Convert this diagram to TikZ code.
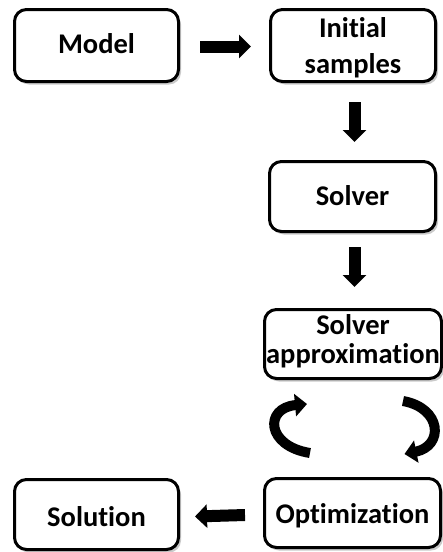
\documentclass[tikz,border=0pt]{standalone}
\usepackage{fontspec}
\setmainfont{Carlito}[Ligatures=NoCommon]
\usetikzlibrary{arrows.meta,shadows}
\begin{document}
\begin{tikzpicture}[x=1pt,y=-1pt,
  box/.style={draw=black, line width=3pt, rounded corners=12pt, fill=white,
    drop shadow={shadow xshift=2.5pt, shadow yshift=-3pt, fill=black!35, opacity=0.6},
    inner sep=0pt, align=center, font=\bfseries\fontsize{28.5}{36}\selectfont},
  blockarrow/.style={line width=12pt, -{Triangle[length=12pt,width=23pt]}},
  curvearrow/.style={line width=10pt, -{Triangle[length=12pt,width=22pt]}}]
\useasboundingbox (0,0) rectangle (443,552);
\node[box, text height=20pt, text depth=4pt, minimum width=164pt, minimum height=72pt] (model) at (96.5,45.5) {Model};
\node[box, minimum width=165pt, minimum height=72pt] (init) at (353,45.5) {\rule{0pt}{26pt}Initial\\samples\rule[-7pt]{0pt}{7pt}};
\node[box, text height=20pt, text depth=3pt, minimum width=166pt, minimum height=70pt] (solver) at (352.5,196.5) {Solver};
\node[box, minimum width=177pt, minimum height=69pt, font=\bfseries\fontsize{28.5}{29}\selectfont] (approx) at (353,344) {\rule{0pt}{20pt}Solver\\approximation\rule[-11pt]{0pt}{11pt}};
\node[box, text height=22pt, text depth=2pt, minimum width=176pt, minimum height=69pt] (opt) at (352.5,513) {Optimization};
\node[box, text height=24pt, text depth=1pt, minimum width=164pt, minimum height=70pt] (sol) at (96.5,514.5) {Solution};
\draw[blockarrow] ([xshift=20pt,yshift=-1pt]model.east) -- ([xshift=-18pt,yshift=-1pt]init.west);
\draw[blockarrow] ([xshift=1.5pt,yshift=-19pt]init.south) -- ([xshift=2pt,yshift=18pt]solver.north);
\draw[blockarrow] ([xshift=2pt,yshift=-14pt]solver.south) -- ([xshift=1.5pt,yshift=21pt]approx.north);
\draw[blockarrow] ([xshift=-18pt,yshift=-2pt]opt.west) -- ([xshift=15pt,yshift=-2pt]sol.east);
\draw[curvearrow] ([xshift=-42.5pt,yshift=24pt]opt.north) .. controls (266,446) and (264,408) .. ([xshift=-46pt,yshift=-24pt]approx.south);
\draw[curvearrow] ([xshift=50pt,yshift=-21pt]approx.south) .. controls (442,408) and (444,446) .. ([xshift=52pt,yshift=23pt]opt.north);
\end{tikzpicture}
\end{document}
